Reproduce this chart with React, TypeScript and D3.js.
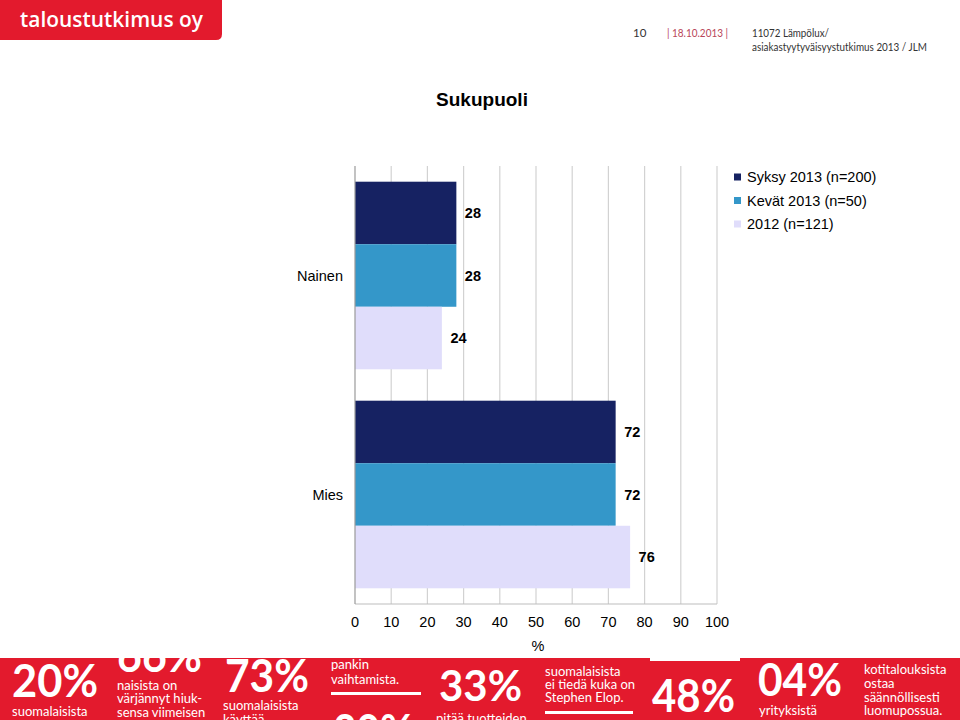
import React from "react";
import * as d3 from "d3";

const categories = ["Nainen", "Mies"];
const seriesNames = ["Syksy 2013 (n=200)", "Kevät 2013 (n=50)", "2012 (n=121)"];
const syksy2013 = [28, 72];
const kevat2013 = [28, 72];
const year2012 = [24, 76];
const seriesValues = [syksy2013, kevat2013, year2012];
const seriesColors = ["#162262", "#3497c9", "#e0ddfb"];
const xTicks = [0, 10, 20, 30, 40, 50, 60, 70, 80, 90, 100];

const RED = "#e31a2d";
const CHART_FONT = "'Liberation Sans', Arial, sans-serif";
const BAND_FONT = "Lato, 'Open Sans', sans-serif";

type BandText = { t: string; x: number; y: number; size: number; w?: number; bold?: boolean };
const bandTexts: BandText[] = [
  { t: "20%", x: 12, y: 697, size: 45, w: 86, bold: true },
  { t: "suomalaisista", x: 12, y: 716, size: 13 },
  { t: "66%", x: 117, y: 672, size: 45, w: 85, bold: true },
  { t: "naisista on", x: 117, y: 690, size: 13 },
  { t: "värjännyt hiuk-", x: 117, y: 703, size: 13 },
  { t: "sensa viimeisen", x: 117, y: 717, size: 13 },
  { t: "73%", x: 225, y: 692, size: 45, w: 84, bold: true },
  { t: "suomalaisista", x: 223, y: 710, size: 13 },
  { t: "käyttää", x: 223, y: 724, size: 13 },
  { t: "pankin", x: 331, y: 669, size: 13 },
  { t: "vaihtamista.", x: 331, y: 684, size: 13 },
  { t: "30%", x: 333, y: 747, size: 45, w: 80, bold: true },
  { t: "33%", x: 439, y: 701, size: 42, w: 83, bold: true },
  { t: "pitää tuotteiden", x: 436, y: 723, size: 13 },
  { t: "suomalaisista", x: 545, y: 676, size: 13 },
  { t: "ei tiedä kuka on", x: 545, y: 689, size: 13 },
  { t: "Stephen Elop.", x: 545, y: 702, size: 13 },
  { t: "48%", x: 652, y: 712, size: 45, w: 83, bold: true },
  { t: "04%", x: 758, y: 696, size: 45, w: 84, bold: true },
  { t: "yrityksistä", x: 759, y: 715, size: 13 },
  { t: "kotitalouksista", x: 864, y: 674, size: 13 },
  { t: "ostaa", x: 864, y: 688, size: 13 },
  { t: "säännöllisesti", x: 864, y: 702, size: 13 },
  { t: "luomupossua.", x: 864, y: 715, size: 13 },
];

export default function App() {
  const x = d3.scaleLinear().domain([0, 100]).range([355, 717]);
  const y0 = d3
    .scaleBand<string>()
    .domain(categories)
    .range([166, 604])
    .paddingInner(0.1434)
    .paddingOuter(0.0717);
  const y1 = d3
    .scaleBand<string>()
    .domain(seriesNames)
    .range([0, y0.bandwidth()]);

  const plotTop = 166;
  const plotBottom = 604;

  return (
    <svg
      width={960}
      height={720}
      style={{ position: "absolute", left: 0, top: 0, background: "#fff" }}
    >
      <defs>
        <clipPath id="bandClip">
          <path d="M0,658 L650,658 L650,661 L740,661 L740,658 L960,658 L960,720 L0,720 Z" />
        </clipPath>
      </defs>
      <rect x={0} y={0} width={960} height={720} fill="#fff" />

      {/* header */}
      <path d="M0,0 H222 V34 Q222,40 216,40 H0 Z" fill={RED} />
      <text
        x={20}
        y={27}
        fontFamily="'Open Sans', sans-serif"
        fontWeight={600}
        fontSize={21}
        fill="#fff"
        textLength={183}
        lengthAdjust="spacingAndGlyphs"
      >
        taloustutkimus oy
      </text>
      <text x={633} y={37} fontFamily={BAND_FONT} fontSize={11.5} fill="#333">
        10
      </text>
      <text
        x={667}
        y={37}
        fontFamily={BAND_FONT}
        fontSize={11.5}
        fill="#b8465a"
        textLength={61}
        lengthAdjust="spacingAndGlyphs"
      >
        | 18.10.2013 |
      </text>
      <text
        x={752}
        y={37}
        fontFamily={BAND_FONT}
        fontSize={11.5}
        fill="#333"
        textLength={77}
        lengthAdjust="spacingAndGlyphs"
      >
        11072 Lämpölux/
      </text>
      <text
        x={752}
        y={51}
        fontFamily={BAND_FONT}
        fontSize={11.5}
        fill="#333"
        textLength={175}
        lengthAdjust="spacingAndGlyphs"
      >
        asiakastyytyväisyystutkimus 2013 / JLM
      </text>

      {/* title */}
      <text
        x={482}
        y={106}
        textAnchor="middle"
        fontFamily={CHART_FONT}
        fontWeight={700}
        fontSize={19}
        fill="#000"
      >
        Sukupuoli
      </text>

      {/* gridlines */}
      {xTicks.map((t) =>
        t === 0 ? null : (
          <line
            key={"g" + t}
            x1={x(t)}
            x2={x(t)}
            y1={plotTop}
            y2={plotBottom}
            stroke="#d2d2d2"
            strokeWidth={1.2}
          />
        )
      )}
      <line x1={x(0)} x2={x(100)} y1={plotBottom} y2={plotBottom} stroke="#bdbdbd" strokeWidth={1.2} />

      {/* bars */}
      {categories.map((c, ci) => (
        <g key={c} transform={`translate(0,${y0(c)})`}>
          {seriesNames.map((s, si) => {
            const v = seriesValues[si][ci];
            const yy = y1(s) as number;
            return (
              <g key={s}>
                <rect
                  x={x(0)}
                  y={yy}
                  width={x(v) - x(0)}
                  height={y1.bandwidth()}
                  fill={seriesColors[si]}
                />
                <text
                  x={x(v) + 8.5}
                  y={yy + y1.bandwidth() / 2}
                  dy="0.36em"
                  fontFamily={CHART_FONT}
                  fontWeight={700}
                  fontSize={14.5}
                  fill="#000"
                >
                  {v}
                </text>
              </g>
            );
          })}
          <text
            x={343}
            y={y0.bandwidth() / 2}
            dy="0.36em"
            textAnchor="end"
            fontFamily={CHART_FONT}
            fontSize={14.5}
            fill="#000"
          >
            {c}
          </text>
        </g>
      ))}

      {/* left axis line */}
      <line x1={x(0)} x2={x(0)} y1={plotTop} y2={plotBottom} stroke="#9a9a9a" strokeWidth={1.2} />

      {/* x tick labels */}
      {xTicks.map((t) => (
        <text
          key={"t" + t}
          x={x(t)}
          y={622}
          dy="0.36em"
          textAnchor="middle"
          fontFamily={CHART_FONT}
          fontSize={14.5}
          fill="#000"
        >
          {t}
        </text>
      ))}
      <text
        x={538}
        y={646}
        dy="0.36em"
        textAnchor="middle"
        fontFamily={CHART_FONT}
        fontSize={14.5}
        fill="#000"
      >
        %
      </text>

      {/* legend */}
      {seriesNames.map((s, i) => {
        const cy = 177 + i * 23.5;
        return (
          <g key={"l" + s}>
            <rect x={734} y={cy - 3.5} width={7} height={7} fill={seriesColors[i]} />
            <text x={747} y={cy} dy="0.36em" fontFamily={CHART_FONT} fontSize={14.5} fill="#000">
              {s}
            </text>
          </g>
        );
      })}

      {/* bottom band */}
      <g clipPath="url(#bandClip)">
        <rect x={0} y={650} width={960} height={70} fill={RED} />
        <rect x={331} y={692} width={90} height={3} fill="#fff" />
        <rect x={545} y={711} width={88} height={3} fill="#fff" />
        {bandTexts.map((b, i) => (
          <text
            key={"b" + i}
            x={b.x}
            y={b.y}
            fontFamily={BAND_FONT}
            fontWeight={b.bold ? 700 : 400}
            fontSize={b.size}
            fill="#fff"
            {...(b.w ? { textLength: b.w, lengthAdjust: "spacingAndGlyphs" } : {})}
          >
            {b.t}
          </text>
        ))}
      </g>
    </svg>
  );
}
